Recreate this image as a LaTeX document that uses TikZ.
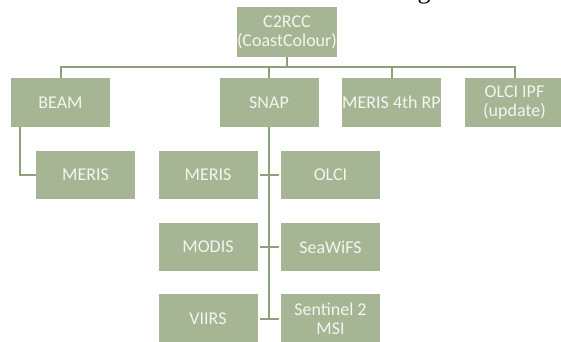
\documentclass[tikz,border=0pt]{standalone}
\usepackage{fontspec}
\setmainfont{Carlito}
\newfontfamily\gserif{Liberation Serif}
\definecolor{boxfill}{HTML}{A6B593}
\definecolor{linecol}{HTML}{8E9F7B}
\definecolor{boxtext}{HTML}{F3F5EF}
\begin{document}
\begin{tikzpicture}[x=1pt,y=-1pt,
  box/.style={draw=none,fill=boxfill,minimum width=99pt,minimum height=48.5pt,
    inner sep=0pt,text=boxtext,align=center,
    font=\fontsize{18}{19}\selectfont},
  conn/.style={draw=linecol,line width=2pt}]
\useasboundingbox (0,0) rectangle (561,341);
% fragment of a cut-off glyph at the top edge
\node[font=\gserif\fontsize{26}{26}\selectfont,anchor=base,inner sep=0pt] (gfrag) at (424,-1.3) {g};
% boxes
\node[box,minimum height=50.5pt] (c2rcc) at (287,32) {C2RCC\\(CoastColour)};
\node[box] (beam)    at (60.5,102.5)  {BEAM};
\node[box] (snap)    at (269,102.5)   {SNAP};
\node[box] (meris4)  at (391.5,102.5) {MERIS 4th RP};
\node[box] (olciipf) at (514.5,102.5) {OLCI IPF\\(update)};
\node[box] (merisB)  at (85.5,175)    {MERIS};
\node[box] (merisS)  at (208,175)     {MERIS};
\node[box] (olci)    at (330.5,175)   {OLCI};
\node[box] (modis)   at (208,247)     {MODIS};
\node[box] (seawifs) at (330.5,247)   {SeaWiFS};
\node[box] (viirs)   at (208,318.5)   {VIIRS};
\node[box] (sentinel) at (330.5,318.5) {Sentinel 2\\MSI};
% connectors
\coordinate (bus) at (0,67);
\draw[conn] (c2rcc.south) -- (c2rcc.south |- bus);
\draw[conn] (beam.north) -- (beam.north |- bus) -- (olciipf.north |- bus) -- (olciipf.north);
\draw[conn] (snap.north) -- (snap.north |- bus);
\draw[conn] (meris4.north) -- (meris4.north |- bus);
\draw[conn] ([xshift=9pt]beam.south west) |- (merisB.west);
\draw[conn] (snap.south) -- (snap.south |- sentinel.west);
\draw[conn] ([xshift=2.5pt]merisS.east) -- ([xshift=-2pt]olci.west);
\draw[conn] ([xshift=2.5pt]modis.east) -- ([xshift=-2pt]seawifs.west);
\draw[conn] ([xshift=2.5pt]viirs.east) -- ([xshift=-2pt]sentinel.west);
\end{tikzpicture}
\end{document}
